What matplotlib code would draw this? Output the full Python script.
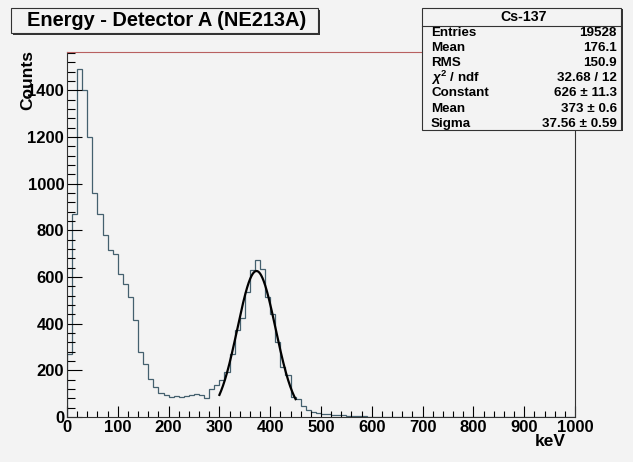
import numpy as np
import matplotlib
matplotlib.use("Agg")
import matplotlib.pyplot as plt
from matplotlib.patches import Rectangle
from matplotlib.ticker import MultipleLocator

# ===== DATA =====
BIN_EDGES_KEV = np.arange(0, 1001, 10)

# counts per 10 keV bin
COUNTS = [
    271, 871, 1490, 1400, 1200, 960, 869, 779, 717, 697,
    614, 571, 514, 414, 279, 229, 164, 129, 104, 93,
    86, 89, 84, 90, 93, 99, 93, 83, 121, 136,
    157, 193, 272, 375, 426, 536, 629, 674, 633, 514,
    440, 321, 214, 179, 86, 79, 46, 29, 21, 17,
    13, 11, 10, 8, 7, 6, 4, 3, 3, 2,
    2, 1, 1, 1, 1, 0, 1, 0, 1, 0,
] + [0] * 30

# gaussian fit (values from the stats box)
FIT_CONST = 626.0
FIT_MEAN = 373.0
FIT_SIGMA = 37.56
FIT_RANGE = (300, 450)

TITLE = "Energy - Detector A (NE213A)"
STATS_NAME = "Cs-137"
STATS_LABELS = ["Entries", "Mean", "RMS", r"$\chi^2$ / ndf", "Constant", "Mean", "Sigma"]
STATS_VALUES = ["19528", "176.1", "150.9", "32.68 / 12", "626 ± 11.3", "373 ± 0.6", "37.56 ± 0.59"]
# ================

W, H = 633, 462
BG = "#f3f3f3"
HIST_COLOR = "#44606e"

plt.rcParams["font.family"] = ["Liberation Sans", "DejaVu Sans"]
plt.rcParams["font.weight"] = "bold"
plt.rcParams["mathtext.fontset"] = "custom"
plt.rcParams["mathtext.it"] = "Liberation Sans:italic:bold"
plt.rcParams["mathtext.rm"] = "Liberation Sans:bold"


def fx(px):
    return px / W


def fy(py):
    return 1 - py / H


fig = plt.figure(figsize=(W / 100, H / 100), dpi=100, facecolor=BG)
ax = fig.add_axes([fx(67), fy(417), fx(575) - fx(67), fy(52) - fy(417)], facecolor=BG)

ax.stairs(COUNTS, BIN_EDGES_KEV, color=HIST_COLOR, lw=0.9)

xf = np.linspace(FIT_RANGE[0], FIT_RANGE[1], 300)
yf = FIT_CONST * np.exp(-0.5 * ((xf - FIT_MEAN) / FIT_SIGMA) ** 2)
ax.plot(xf, yf, color="black", lw=1.6)

ax.set_xlim(0, 1000)
ax.set_ylim(0, 1565)

ax.xaxis.set_major_locator(MultipleLocator(100))
ax.xaxis.set_minor_locator(MultipleLocator(20))
ax.yaxis.set_major_locator(MultipleLocator(200))
ax.yaxis.set_minor_locator(MultipleLocator(40))
ax.tick_params(axis="x", which="major", direction="in", length=8, width=0.8, labelsize=12, pad=2)
ax.tick_params(axis="x", which="minor", direction="in", length=4, width=0.8)
ax.tick_params(axis="y", which="major", direction="in", length=11, width=0.8, labelsize=12, pad=2)
ax.tick_params(axis="y", which="minor", direction="in", length=5.5, width=0.8)
for lab in ax.get_xticklabels() + ax.get_yticklabels():
    lab.set_fontweight("bold")

for side in ["left", "bottom", "right"]:
    ax.spines[side].set_color("#333333")
    ax.spines[side].set_linewidth(0.8)
ax.spines["top"].set_color("#b86060")
ax.spines["top"].set_linewidth(0.8)

# ROOT puts the y title right over the top label, same as the reference
fig.text(fx(28), fy(80), "Counts", rotation=90, ha="center", va="center",
         fontsize=12.5, fontweight="bold", zorder=4)
fig.text(fx(566), fy(441), "keV", ha="right", va="center", fontsize=12.5, fontweight="bold")


def box(x0, y0, x1, y1, shadow=2):
    # shadowed box in pixel coords
    fig.add_artist(Rectangle((fx(x0 + shadow), fy(y1 + shadow)), fx(x1 - x0), fy(y0) - fy(y1),
                             transform=fig.transFigure, facecolor="#333333",
                             edgecolor="none", zorder=5))
    fig.add_artist(Rectangle((fx(x0), fy(y1)), fx(x1 - x0), fy(y0) - fy(y1),
                             transform=fig.transFigure, facecolor=BG,
                             edgecolor="#333333", lw=0.8, zorder=6))


# title box
box(11, 8, 318, 33)
fig.text(fx(167), fy(21), TITLE, ha="center", va="center", fontsize=14.4,
         fontweight="bold", zorder=7)

# stats box
box(422, 8, 621, 130, shadow=1.5)
fig.add_artist(plt.Line2D([fx(422), fx(621)], [fy(26), fy(26)], transform=fig.transFigure,
                          color="#333333", lw=0.8, zorder=7))
fig.text(fx(524), fy(17), STATS_NAME, ha="center", va="center", fontsize=10.2,
         fontweight="bold", zorder=7)
row_y = np.linspace(32.5, 124, len(STATS_LABELS))
for lab, val, yy in zip(STATS_LABELS, STATS_VALUES, row_y):
    fig.text(fx(431), fy(yy), lab, ha="left", va="center", fontsize=9.6,
             fontweight="bold", zorder=7)
    fig.text(fx(617), fy(yy), val, ha="right", va="center", fontsize=9.6,
             fontweight="bold", zorder=7)

fig.savefig("out.png", dpi=100, facecolor=BG)
